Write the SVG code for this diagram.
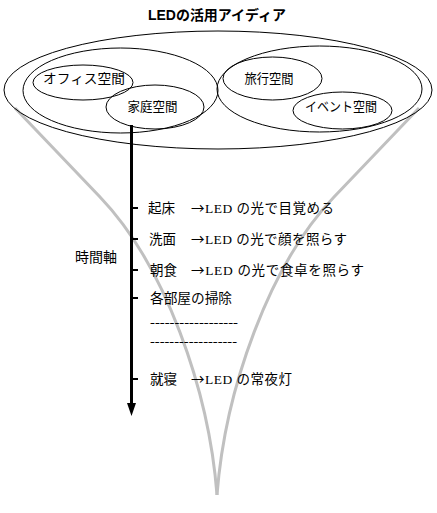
<svg xmlns="http://www.w3.org/2000/svg" width="437" height="513" viewBox="0 0 437 513">
<style>
.e{fill:none;stroke:#000;stroke-width:1}
.lbl{font-family:"Noto Sans CJK JP",sans-serif;font-size:13px;fill:#000}
.row{font-family:"Liberation Serif","Noto Sans CJK JP",serif;font-size:13.5px;fill:#000}
.jp{font-family:"Noto Sans CJK JP",sans-serif}
.funnel{fill:none;stroke:#c0c0c0;stroke-width:3}
.tick{stroke:#000;stroke-width:2}
</style>
<rect width="437" height="513" fill="#fff"/>
<text x="217" y="20" text-anchor="middle" textLength="138" lengthAdjust="spacingAndGlyphs" style="font-family:'Liberation Sans','Noto Sans CJK JP',sans-serif;font-size:14px;font-weight:bold">LEDの活用アイディア</text>
<g id="funnel">
<path class="funnel" d="M15,108 L100,197 C165,265 209,390 217,495"/>
<path class="funnel" d="M419,108 L334,197 C269,265 225,390 217,495"/>
</g>
<g id="all"><ellipse class="e" cx="218" cy="90" rx="214" ry="59"/></g>
<g id="left"><ellipse class="e" cx="120.5" cy="90.5" rx="97.5" ry="42.5"/></g>
<g id="right"><ellipse class="e" cx="319.5" cy="89" rx="102.5" ry="43"/></g>
<g id="office"><ellipse class="e" cx="83" cy="82.5" rx="50" ry="17.5"/><text class="lbl" x="84" y="83" text-anchor="middle" textLength="82" lengthAdjust="spacingAndGlyphs">オフィス空間</text></g>
<g id="home"><ellipse class="e" cx="155" cy="107" rx="49" ry="22"/><text class="lbl" x="152.5" y="111" text-anchor="middle" textLength="50" lengthAdjust="spacingAndGlyphs">家庭空間</text></g>
<g id="travel"><ellipse class="e" cx="272.5" cy="78.5" rx="49.5" ry="21.5"/><text class="lbl" x="269" y="83" text-anchor="middle" textLength="49" lengthAdjust="spacingAndGlyphs">旅行空間</text></g>
<g id="event"><ellipse class="e" cx="342.5" cy="110.5" rx="49.5" ry="18.5"/><text class="lbl" x="341" y="111" text-anchor="middle" textLength="72" lengthAdjust="spacingAndGlyphs">イベント空間</text></g>
<g id="connectors">
<line x1="131.5" y1="125" x2="131.5" y2="405" stroke="#000" stroke-width="3"/>
<polygon points="127,403 136,403 131.5,416" fill="#000"/>
<line class="tick" x1="131" y1="208" x2="138" y2="208"/>
<line class="tick" x1="131" y1="239" x2="138" y2="239"/>
<line class="tick" x1="131" y1="270" x2="138" y2="270"/>
<line class="tick" x1="131" y1="298" x2="138" y2="298"/>
<line class="tick" x1="131" y1="379" x2="138" y2="379"/>
</g>
<g id="timeline">
<text class="lbl" x="75" y="262" style="font-size:14px" textLength="42" lengthAdjust="spacingAndGlyphs">時間軸</text>
<text class="row" y="213"><tspan class="jp" x="148">起床</tspan><tspan x="191" textLength="143" lengthAdjust="spacing"><tspan class="jp">→</tspan>LED の光で目覚める</tspan></text>
<text class="row" y="244"><tspan class="jp" x="149">洗面</tspan><tspan x="191" textLength="156" lengthAdjust="spacing"><tspan class="jp">→</tspan>LED の光で顔を照らす</tspan></text>
<text class="row" y="275"><tspan class="jp" x="150">朝食</tspan><tspan x="191" textLength="173" lengthAdjust="spacing"><tspan class="jp">→</tspan>LED の光で食卓を照らす</tspan></text>
<text class="row jp" x="150" y="303" textLength="82" lengthAdjust="spacingAndGlyphs">各部屋の掃除</text>
<text class="row" x="150" y="327" textLength="88" lengthAdjust="spacingAndGlyphs">------------------</text>
<text class="row" x="150" y="346" textLength="87" lengthAdjust="spacingAndGlyphs">------------------</text>
<text class="row" y="384"><tspan class="jp" x="150">就寝</tspan><tspan x="191" textLength="101" lengthAdjust="spacing"><tspan class="jp">→</tspan>LED の常夜灯</tspan></text>
</g>
</svg>
